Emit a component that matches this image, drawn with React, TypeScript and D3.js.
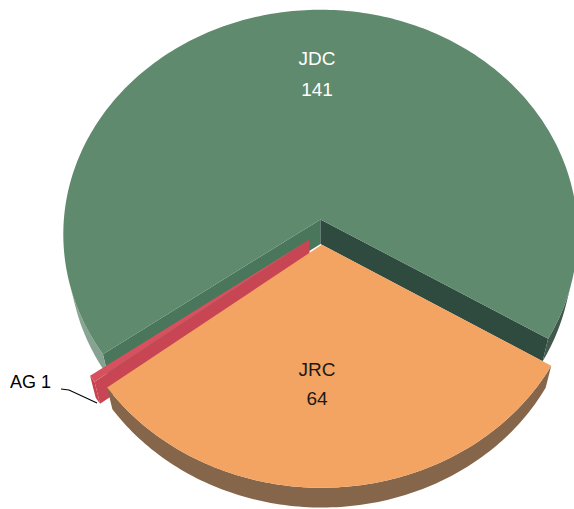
import React from 'react';
import * as d3 from 'd3';

// ---- data ----
const categories: string[] = ['JRC', 'AG', 'JDC'];
const values: number[] = [64, 1, 141];

// ---- styles ----
const topColors = ['#F3A462', '#D6505E', '#5F8A6E'];
const sideColors = ['#86664A', '#C8404F', 'url(#greenSide)'];
const startFaceColors = ['#7A5C42', '#C84553', '#4A765B'];
const endFaceColors = ['#6E533C', '#A83442', '#2F4A3F'];

const W = 574;
const H = 509;
const cx = 321;
const cy = 232;
const phi = (61 * Math.PI) / 180;
const D = 7.3;
const F = 1880;
const thick = 0.2;
const explode = 0.056;
const startDeg = 121; // d3 pie angle (0 = 12 o'clock, clockwise)

const cosP = Math.cos(phi);
const sinP = Math.sin(phi);
const cam = [0, D * sinP, -D * cosP];

function proj(X: number, Y: number, Z: number): [number, number] {
  const depth = D + Z * cosP - Y * sinP;
  return [cx + (F * X) / depth, cy - (F * (Y * cosP + Z * sinP)) / depth];
}

function visible(px: number, py: number, pz: number, nx: number, nz: number) {
  return nx * (cam[0] - px) + nz * (cam[2] - pz) > 0;
}

const line = d3.line<[number, number]>().x((d) => d[0]).y((d) => d[1]);

export default function App() {
  const pie = d3
    .pie<number>()
    .sort(null)
    .startAngle((startDeg * Math.PI) / 180)
    .endAngle((startDeg * Math.PI) / 180 + 2 * Math.PI);
  const arcs = pie(values);

  const slices = arcs.map((a, i) => {
    const t0 = a.startAngle - Math.PI / 2;
    const t1 = a.endAngle - Math.PI / 2;
    const tm = (t0 + t1) / 2;
    const ox = explode * Math.cos(tm);
    const oz = -explode * Math.sin(tm);
    const n = Math.max(4, Math.ceil(((t1 - t0) * 180) / Math.PI));
    const ts = d3.range(n + 1).map((k) => t0 + ((t1 - t0) * k) / n);
    const rim = (t: number, Y: number) => proj(ox + Math.cos(t), Y, oz - Math.sin(t));
    const top = line([proj(ox, 0, oz), ...ts.map((t) => rim(t, 0))])! + 'Z';

    // outer side, visible runs only
    const sides: string[] = [];
    let run: number[] = [];
    const flush = () => {
      if (run.length > 1) {
        const pts = [...run.map((t) => rim(t, 0)), ...run.slice().reverse().map((t) => rim(t, -thick))];
        sides.push(line(pts)! + 'Z');
      }
      run = [];
    };
    ts.forEach((t, k) => {
      const tt = k < ts.length - 1 ? (t + ts[k + 1]) / 2 : t;
      const vis = visible(ox + Math.cos(tt), 0, oz - Math.sin(tt), Math.cos(tt), -Math.sin(tt));
      if (vis) run.push(t);
      else {
        if (run.length) { run.push(t); }
        flush();
      }
    });
    flush();

    const face = (t: number) =>
      line([proj(ox, 0, oz), rim(t, 0), rim(t, -thick), proj(ox, -thick, oz)])! + 'Z';
    const sVis = visible(ox, 0, oz, Math.cos(t0 - Math.PI / 2), -Math.sin(t0 - Math.PI / 2));
    const eVis = visible(ox, 0, oz, Math.cos(t1 + Math.PI / 2), -Math.sin(t1 + Math.PI / 2));
    return {
      i,
      depthKey: oz,
      top,
      sides,
      startFace: sVis ? face(t0) : null,
      endFace: eVis ? face(t1) : null,
    };
  });

  const order = slices.slice().sort((a, b) => b.depthKey - a.depthKey);

  return (
    <svg width={W} height={H} style={{ position: 'absolute', left: 0, top: 0 }} fontFamily="Liberation Sans, Arial, sans-serif">
      <defs>
        <linearGradient id="greenSide" gradientUnits="userSpaceOnUse" x1={60} y1={0} x2={575} y2={0}>
          <stop offset="0" stopColor="#8CA898" />
          <stop offset="0.5" stopColor="#5E7E6C" />
          <stop offset="1" stopColor="#3E5649" />
        </linearGradient>
      </defs>
      <rect width={W} height={H} fill="#ffffff" />
      {order.map((s) => (
        <g key={categories[s.i]}>
          {s.startFace && <path d={s.startFace} fill={startFaceColors[s.i]} />}
          {s.endFace && <path d={s.endFace} fill={endFaceColors[s.i]} />}
          {s.sides.map((d, k) => (
            <path key={k} d={d} fill={sideColors[s.i]} />
          ))}
          <path d={s.top} fill={topColors[s.i]} />
        </g>
      ))}
      <g fontSize={19} textAnchor="middle">
        <text x={317} y={65} fill="#ffffff">{categories[2]}</text>
        <text x={317} y={96} fill="#ffffff">{values[2]}</text>
        <text x={317} y={376} fill="#1a1a1a">{categories[0]}</text>
        <text x={317} y={405} fill="#1a1a1a">{values[0]}</text>
      </g>
      <text x={10} y={388} fontSize={18} fill="#000">{`${categories[1]} ${values[1]}`}</text>
      <path d="M61,389 L69,390 L97,403" fill="none" stroke="#000" strokeWidth={1.2} />
    </svg>
  );
}
